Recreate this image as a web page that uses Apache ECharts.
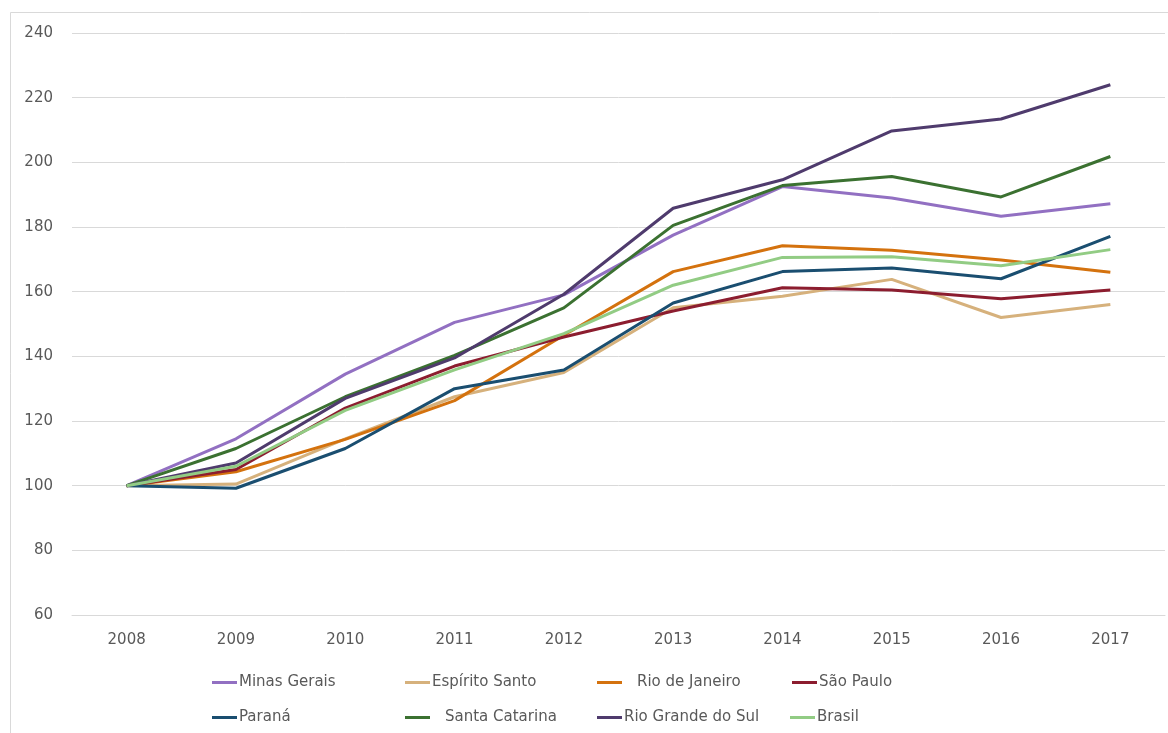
<!DOCTYPE html>
<html>
<head>
<meta charset="utf-8">
<script src="https://cdn.jsdelivr.net/npm/echarts@6/dist/echarts.min.js"></script>
<style>
html,body{margin:0;padding:0;background:#fff;}
#chart{width:1168px;height:733px;}
</style>
</head>
<body>
<div id="chart"></div>
<script>
const years = ['2008','2009','2010','2011','2012','2013','2014','2015','2016','2017'];
const minasGerais    = [100, 114.5, 134.5, 150.5, 159, 177.5, 192.5, 189, 183.3, 187.2];
const espiritoSanto  = [100, 100.5, 114.5, 127.5, 135, 155, 158.6, 163.8, 152, 156];
const rioDeJaneiro   = [100, 104.3, 114.3, 126.3, 146.5, 166.2, 174.2, 172.8, 169.8, 166];
const saoPaulo       = [100, 105, 124, 137, 146, 154, 161.2, 160.5, 157.8, 160.5];
const parana         = [100, 99.2, 111.5, 130, 135.8, 156.5, 166.2, 167.3, 164, 177.1];
const santaCatarina  = [100, 111.5, 127.5, 140.3, 155, 180.5, 192.8, 195.6, 189.3, 201.8];
const rioGrandeDoSul = [100, 107, 127, 139.5, 159.2, 185.8, 194.6, 209.7, 213.4, 224];
const brasil         = [100, 106, 123.3, 135.8, 147, 162, 170.6, 170.8, 168, 173];
const yTicks = { min: 60, max: 240, interval: 20 };

const seriesDefs = [
  ['Minas Gerais', minasGerais, '#9270c2'],
  ['Espírito Santo', espiritoSanto, '#d6b17c'],
  ['Rio de Janeiro', rioDeJaneiro, '#d4720e'],
  ['São Paulo', saoPaulo, '#8c1d2f'],
  ['Paraná', parana, '#1a4e70'],
  ['Santa Catarina', santaCatarina, '#3b7131'],
  ['Rio Grande do Sul', rioGrandeDoSul, '#4f3b6d'],
  ['Brasil', brasil, '#92cc84']
];
const legendPos = [
  [212, 675, -3], [405, 675, -3], [597, 675, 10], [792, 675, -3],
  [212, 710, -3], [405, 710, 10], [597, 710, -3], [790, 710, -3]
];
const FONT = 'DejaVu Sans';
const chart = echarts.init(document.getElementById('chart'));
chart.setOption({
  animation: false,
  backgroundColor: '#ffffff',
  graphic: [{
    type: 'rect', shape: { x: 10.5, y: 12.5, width: 1170, height: 740 },
    style: { fill: 'none', stroke: '#d9d9d9', lineWidth: 1 }, z: -1
  }],
  legend: seriesDefs.map((s, i) => ({
    data: [{ name: s[0], icon: 'rect' }], left: legendPos[i][0], top: legendPos[i][1],
    itemWidth: 25, itemHeight: 3, padding: 0,
    textStyle: { fontFamily: FONT, fontSize: 15, color: '#595959', padding: [0, 0, 0, legendPos[i][2]] }
  })),
  grid: { left: 72, right: 3, top: 33, bottom: 118 },
  xAxis: {
    type: 'category', data: years, boundaryGap: true,
    axisLine: { show: true, lineStyle: { color: '#d9d9d9', width: 1 } },
    axisTick: { show: false },
    axisLabel: { fontFamily: FONT, fontSize: 15, color: '#595959', margin: 18 }
  },
  yAxis: {
    type: 'value', min: yTicks.min, max: yTicks.max, interval: yTicks.interval,
    axisLine: { show: false }, axisTick: { show: false },
    splitLine: { lineStyle: { color: '#d9d9d9', width: 1 } },
    axisLabel: { fontFamily: FONT, fontSize: 15, color: '#595959', margin: 19 }
  },
  series: seriesDefs.map(s => ({
    name: s[0], type: 'line', data: s[1], symbol: 'none', showSymbol: false,
    lineStyle: { color: s[2], width: 3 }, itemStyle: { color: s[2] }
  }))
});
</script>
</body>
</html>
